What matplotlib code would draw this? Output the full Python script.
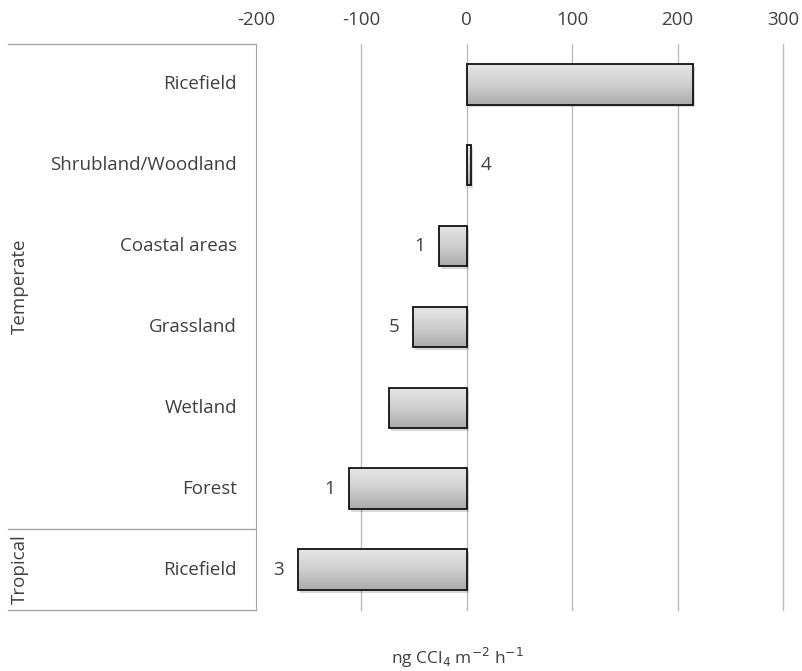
import numpy as np
import matplotlib
matplotlib.use("Agg")
import matplotlib.pyplot as plt
import matplotlib.patheffects as pe
import matplotlib.transforms as mtrans
from matplotlib.colors import LinearSegmentedColormap
from matplotlib.lines import Line2D

plt.rcParams['font.family'] = ['Open Sans', 'DejaVu Sans']
plt.rcParams['axes.unicode_minus'] = False

# flux per ecosystem, top to bottom
categories = ["Ricefield", "Shrubland/Woodland", "Coastal areas", "Grassland",
              "Wetland", "Forest", "Ricefield"]
values = [215, 4, -26, -51, -74, -112, -160]
counts = ["", "4", "1", "5", "", "1", "3"]
groups = ["Temperate", "Tropical"]
group_rows = [(0, 5), (6, 6)]
xticks = [-200, -100, 0, 100, 200, 300]

W, H = 803, 671
fs = 13.5
txt = "#404040"
fig = plt.figure(figsize=(W / 100, H / 100), dpi=100)
ax = fig.add_axes([256 / W, 1 - 610 / H, (783 - 256) / W, (610 - 44) / H])

y = np.arange(len(categories))
bar_h = 0.5
grey = LinearSegmentedColormap.from_list("bar", ["#e6e6e6", "#cfcfcf", "#ababab"])
grad = np.linspace(0, 1, 64).reshape(-1, 1)

bars = ax.barh(y, values, height=bar_h, color="#c8c8c8", edgecolor="none", zorder=2)
for b in bars:
    b.set_path_effects([pe.SimplePatchShadow(offset=(1.5, -2), alpha=0.2), pe.Normal()])
    x0, x1 = sorted([b.get_x(), b.get_x() + b.get_width()])
    yc = b.get_y() + b.get_height() / 2
    im = ax.imshow(grad, cmap=grey, aspect="auto", origin="upper",
                   extent=(x0, x1, yc + bar_h / 2, yc - bar_h / 2), zorder=2.5)
    im.set_clip_path(b)
ax.barh(y, values, height=bar_h, color="none", edgecolor="#111111", linewidth=1.3, zorder=3)

for yi, v, c in zip(y, values, counts):
    if not c:
        continue
    off = 7 if v >= 0 else -10
    ax.annotate(c, (v, yi), xytext=(off, 0), textcoords="offset points",
                ha="left" if v >= 0 else "right", va="center", fontsize=fs, color=txt)

ax.set_xlim(-200, 300)
ax.set_ylim(6.5, -0.5)
ax.set_xticks(xticks)
ax.xaxis.tick_top()
ax.tick_params(axis="x", length=0, pad=11, labelsize=fs, labelcolor=txt)
ax.set_yticks([])
for v in xticks[1:]:
    ax.axvline(v, color="#bdbdbd", linewidth=1, zorder=1, clip_on=False)
for s in ["top", "right", "bottom"]:
    ax.spines[s].set_visible(False)
ax.spines["left"].set_color("#a6a6a6")

# category names, group labels and bracket lines left of the plot
fig_y = mtrans.blended_transform_factory(fig.transFigure, ax.transData)
for yi, name in zip(y, categories):
    ax.text(237 / W, yi, name, transform=fig_y, ha="right", va="center",
            fontsize=fs, color=txt)

for yb in [-0.5, 5.5, 6.5]:
    ax.add_line(Line2D([8 / W, 256 / W], [yb, yb], transform=fig_y,
                       color="#a6a6a6", linewidth=1, clip_on=False))

for g, (r0, r1) in zip(groups, group_rows):
    ax.text(20 / W, (r0 + r1) / 2, g, transform=fig_y, rotation=90, ha="center", va="center",
            fontsize=fs, color=txt)

fig.text(457 / W, 1 - 658 / H, "ng CCl$_4$ m$^{-2}$ h$^{-1}$", ha="center", va="center",
         fontsize=12.5, color=txt)

fig.savefig("out.png", dpi=100)
